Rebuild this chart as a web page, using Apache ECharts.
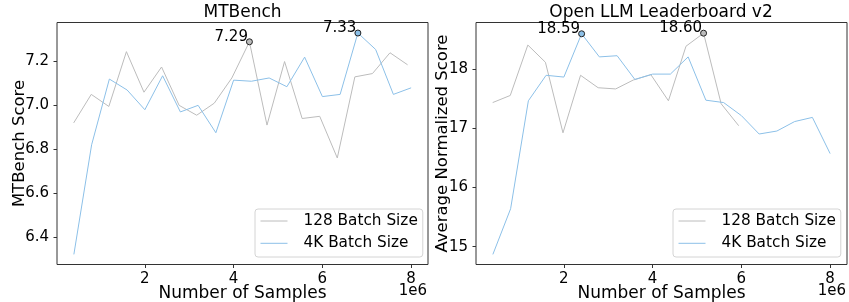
<!DOCTYPE html>
<html>
<head>
<meta charset="utf-8">
<script src="https://cdn.jsdelivr.net/npm/echarts@6/dist/echarts.min.js"></script>
<style>
  html, body { margin: 0; padding: 0; background: #fff; }
  #chart { width: 849px; height: 302px; }
</style>
</head>
<body>
<div id="chart"></div>
<script>
// x values in units of 1e6 samples
const samples128 = [0.396, 0.792, 1.188, 1.584, 1.98, 2.376, 2.772, 3.168, 3.564, 3.96,
  4.356, 4.752, 5.148, 5.544, 5.94, 6.336, 6.732, 7.128, 7.524, 7.92]
const samples4K = [0.4, 0.8, 1.2, 1.6, 2.0, 2.4, 2.8, 3.2, 3.6, 4.0,
  4.4, 4.8, 5.2, 5.6, 6.0, 6.4, 6.8, 7.2, 7.6, 8.0]

const mtbench128 = [6.92, 7.05, 6.995, 7.245, 7.06, 7.175, 7.0, 6.955, 7.01, 7.125,
  7.29, 6.91, 7.2, 6.94, 6.95, 6.76, 7.13, 7.145, 7.24, 7.185]
const mtbench4K = [6.32, 6.82, 7.12, 7.07, 6.98, 7.135, 6.97, 7.0, 6.875, 7.115,
  7.11, 7.125, 7.085, 7.22, 7.04, 7.05, 7.33, 7.255, 7.05, 7.08]

const leaderboard128 = [17.43, 17.55, 18.40, 18.11, 16.92, 17.89, 17.68, 17.66, 17.81, 17.90,
  17.46, 18.38, 18.60, 17.41, 17.04]
const leaderboard4K = [14.87, 15.64, 17.46, 17.89, 17.86, 18.59, 18.20, 18.22, 17.82, 17.91,
  17.91, 18.20, 17.47, 17.43, 17.21, 16.90, 16.95, 17.11, 17.18, 16.57]

const xTicks = [2, 4, 6, 8]
const mtbenchTicks = [6.4, 6.6, 6.8, 7.0, 7.2]
const leaderboardTicks = [15, 16, 17, 18]

const seriesNames = ['128 Batch Size', '4K Batch Size']
const titles = ['MTBench', 'Open LLM Leaderboard v2']

const FONT = 'DejaVu Sans'
const GREY = '#bcbcbc'
const BLUE = '#8cc0e8'
const FRAME = '#333'

const pairs = (xs, ys) => ys.map((y, i) => [xs[i], y])

function xAxisFor(idx) {
  return {
    type: 'value',
    gridIndex: idx,
    min: 0.02,
    max: 8.38,
    name: 'Number of Samples',
    nameLocation: 'middle',
    nameGap: 21,
    nameMoveOverlap: false,
    nameTextStyle: { fontFamily: FONT, fontSize: 17, color: '#000' },
    axisLine: { show: false },
    axisTick: { show: true, customValues: xTicks, length: 3.5, lineStyle: { color: FRAME } },
    axisLabel: {
      customValues: xTicks, margin: 7.5,
      fontFamily: FONT, fontSize: 15, color: '#000',
      formatter: v => String(v)
    },
    splitLine: { show: false }
  }
}

function yAxisFor(idx, min, max, ticks, name, gap, digits) {
  return {
    type: 'value',
    gridIndex: idx,
    min: min,
    max: max,
    name: name,
    nameLocation: 'middle',
    nameGap: gap,
    nameMoveOverlap: false,
    nameTextStyle: { fontFamily: FONT, fontSize: 16.5, color: '#000' },
    axisLine: { show: false },
    axisTick: { show: true, customValues: ticks, length: 3.5, lineStyle: { color: FRAME } },
    axisLabel: {
      customValues: ticks, margin: 8,
      fontFamily: FONT, fontSize: 15, color: '#000',
      formatter: v => v.toFixed(digits)
    },
    splitLine: { show: false }
  }
}

function lineSeries(name, idx, data, color) {
  return {
    name: name,
    type: 'line',
    xAxisIndex: idx,
    yAxisIndex: idx,
    data: data,
    color: color,
    symbol: 'none',
    lineStyle: { color: color, width: 1 },
    itemStyle: { color: color },
    z: 2,
    markPoint: {
      symbol: 'circle',
      symbolSize: 6,
      itemStyle: { color: color, borderColor: '#222', borderWidth: 1 },
      label: {
        show: true,
        position: [2, 6],
        align: 'right',
        verticalAlign: 'bottom',
        fontFamily: FONT,
        fontSize: 15,
        color: '#000',
        formatter: p => p.value.toFixed(2)
      },
      data: [{ type: 'max' }]
    }
  }
}

function legendFor(left) {
  return {
    data: [
      { name: seriesNames[0], lineStyle: { color: GREY, width: 1 } },
      { name: seriesNames[1], lineStyle: { color: BLUE, width: 1 } }
    ],
    orient: 'vertical',
    left: left,
    top: 209,
    itemWidth: 27,
    itemHeight: 12,
    itemGap: 4.3,
    padding: [3, 5, 4.7, 5],
    backgroundColor: '#fff',
    borderColor: '#d4d4d4',
    borderWidth: 1,
    borderRadius: 3,
    selectedMode: false,
    itemStyle: { opacity: 0 },
    textStyle: { fontFamily: FONT, fontSize: 15.3, lineHeight: 18, color: '#000', padding: [0, 0, 0, 11] }
  }
}

const chart = echarts.init(document.getElementById('chart'), null, { renderer: 'canvas' })

const gridBase = { top: 22.5, width: 371, height: 242, show: true, borderColor: FRAME, borderWidth: 1, outerBoundsMode: 'none', containLabel: false }

chart.setOption({
  animation: false,
  grid: [
    Object.assign({ left: 57 }, gridBase),
    Object.assign({ left: 476 }, gridBase)
  ],
  xAxis: [xAxisFor(0), xAxisFor(1)],
  yAxis: [
    yAxisFor(0, 6.274, 7.378, mtbenchTicks, 'MTBench Score', 29, 1),
    yAxisFor(1, 14.70, 18.78, leaderboardTicks, 'Average Normalized Score', 25, 0)
  ],
  legend: [legendFor(255), legendFor(673)],
  series: [
    lineSeries(seriesNames[0], 0, pairs(samples128, mtbench128), GREY),
    lineSeries(seriesNames[1], 0, pairs(samples4K, mtbench4K), BLUE),
    lineSeries(seriesNames[0], 1, pairs(samples128, leaderboard128), GREY),
    lineSeries(seriesNames[1], 1, pairs(samples4K, leaderboard4K), BLUE)
  ],
  graphic: [
    { type: 'text', x: 242.5, y: 12.7, style: { text: titles[0], font: '17px "DejaVu Sans"', fill: '#000', align: 'center', verticalAlign: 'middle' } },
    { type: 'text', x: 661, y: 12.7, style: { text: titles[1], font: '17px "DejaVu Sans"', fill: '#000', align: 'center', verticalAlign: 'middle' } },
    { type: 'text', x: 427, y: 291.5, style: { text: '1e6', font: '15px "DejaVu Sans"', fill: '#000', align: 'right', verticalAlign: 'middle' } },
    { type: 'text', x: 846, y: 291.5, style: { text: '1e6', font: '15px "DejaVu Sans"', fill: '#000', align: 'right', verticalAlign: 'middle' } }
  ]
})
</script>
</body>
</html>
